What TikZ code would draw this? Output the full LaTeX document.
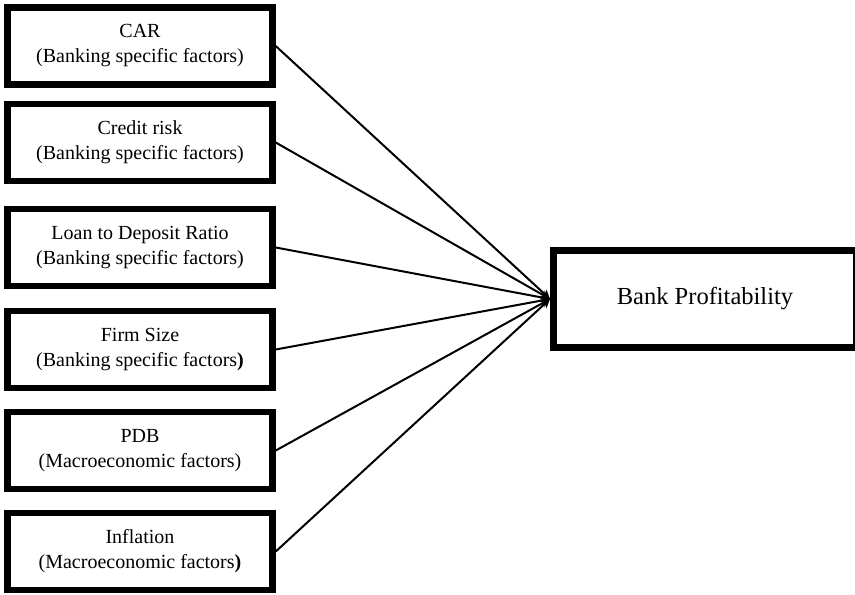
\documentclass[tikz,border=0pt]{standalone}
\usepackage{fontspec}
\setmainfont{Liberation Serif}
\usetikzlibrary{arrows.meta}
\begin{document}
\begin{tikzpicture}[x=1pt, y=-1pt,
    factor/.style={draw, line width=6.5pt, minimum width=265pt, minimum height=77pt,
        inner sep=0pt, align=center, font=\fontsize{20}{25}\selectfont},
    target/.style={draw, line width=7pt, minimum width=303pt, minimum height=97pt,
        font=\fontsize{24.5}{29}\selectfont},
    link/.style={line width=2pt, -{Stealth[length=9pt, width=9pt]}}]
    \useasboundingbox (0, 0) rectangle (855, 595);

    \node[factor] (F1) at (140, 46) {CAR\\(Banking specific factors)};
    \node[factor] (F2) at (140, 142.5) {Credit risk\\(Banking specific factors)};
    \node[factor] (F3) at (140, 247.5) {Loan to Deposit Ratio\\(Banking specific factors)};
    \node[factor] (F4) at (140, 349.5) {Firm Size\\(Banking specific factors\textbf{)}};
    \node[factor] (F5) at (140, 450.5) {PDB\\(Macroeconomic factors)};
    \node[factor] (F6) at (140, 551.5) {Inflation\\(Macroeconomic factors\textbf{)}};
    \node[target] (P) at (705, 299) {Bank Profitability};

    \draw[link] (F1.east) -- (P.west);
    \draw[link] (F2.east) -- (P.west);
    \draw[link] (F3.east) -- (P.west);
    \draw[link] (F4.east) -- (P.west);
    \draw[link] (F5.east) -- (P.west);
    \draw[link] (F6.east) -- (P.west);
\end{tikzpicture}
\end{document}
